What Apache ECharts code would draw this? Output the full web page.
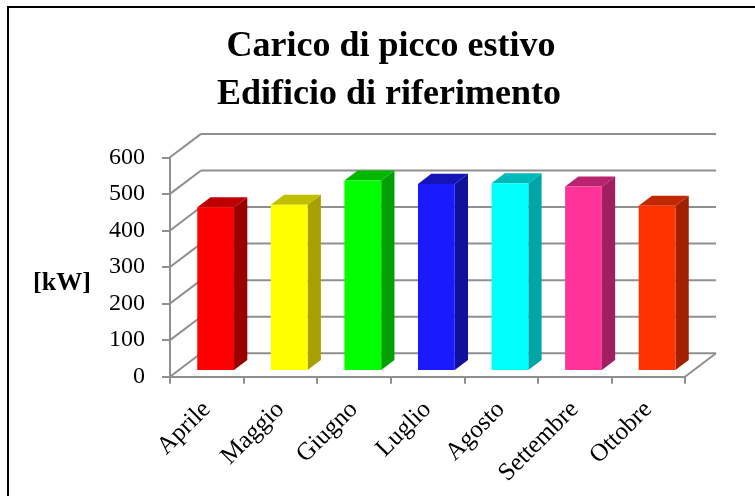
<!DOCTYPE html>
<html>
<head>
<meta charset="utf-8">
<title>Carico di picco estivo</title>
<script src="https://cdn.jsdelivr.net/npm/echarts@6/dist/echarts.min.js"></script>
<style>
  html, body { margin: 0; padding: 0; background: #ffffff; }
  #chart { width: 755px; height: 496px; }
</style>
</head>
<body>
<div id="chart"></div>
<script>
// Mesi della stagione estiva e carico di picco [kW]
const categories = ['Aprile', 'Maggio', 'Giugno', 'Luglio', 'Agosto', 'Settembre', 'Ottobre'];
const peakLoad = [445, 452, 518, 509, 511, 502, 449];
const yTicks = [0, 100, 200, 300, 400, 500, 600];

// Colori delle facce delle colonne (fronte, lato, sommità)
const frontColors = ['#ff0000', '#ffff00', '#00ff00', '#1a1aff', '#00ffff', '#ff3399', '#ff3300'];
const sideColors  = ['#990000', '#a8a000', '#00a000', '#10109a', '#00a6a6', '#a01f60', '#a02000'];
const topColors   = ['#c00000', '#c0c000', '#00b800', '#1414b8', '#00baba', '#b8246f', '#c02800'];

// Vettore di profondità della vista prospettica
const DX = 31;
const DY = -23.4;
const D0 = 0.286;   // profondità della faccia frontale
const D1 = 0.714;   // profondità della faccia posteriore
const GRID_COLOR = '#8f8f8f';
const SERIF = 'Liberation Serif';

const chart = echarts.init(document.getElementById('chart'), null, { renderer: 'canvas' });

// Pareti: linee di griglia sul fondo e diagonali sulla parete sinistra
function renderWalls(params, api) {
  const cs = params.coordSys;
  const y = api.coord([0, api.value(1)])[1];
  const x0 = cs.x;
  const x1 = cs.x + cs.width;
  const style = { stroke: GRID_COLOR, lineWidth: 2, fill: null };
  const children = [
    { type: 'line', shape: { x1: x0, y1: y, x2: x0 + DX, y2: y + DY }, style },
    { type: 'line', shape: { x1: x0 + DX, y1: y + DY, x2: x1 + DX, y2: y + DY }, style }
  ];
  if (api.value(1) === 0) {
    children.push({ type: 'line', shape: { x1: x1, y1: y, x2: x1 + DX, y2: y + DY }, style });
  }
  return { type: 'group', children };
}

// Colonne 3D: faccia frontale, laterale e superiore
function renderBar(params, api) {
  const i = api.value(0);
  const v = api.value(1);
  const base = api.coord([i, 0]);
  const top = api.coord([i, v]);
  const band = api.size([1, 0])[0];
  const half = band * 0.25;
  const fx = D0 * DX, fy = D0 * DY;
  const ddx = (D1 - D0) * DX, ddy = (D1 - D0) * DY;
  const xl = base[0] - half + fx;
  const xr = base[0] + half + fx;
  const yt = top[1] + fy;
  const yb = base[1] + fy;
  return {
    type: 'group',
    children: [
      {
        type: 'polygon',
        shape: { points: [[xr, yt], [xr + ddx, yt + ddy], [xr + ddx, yb + ddy], [xr, yb]] },
        style: { fill: sideColors[i] }
      },
      {
        type: 'polygon',
        shape: { points: [[xl, yt], [xr, yt], [xr + ddx, yt + ddy], [xl + ddx, yt + ddy]] },
        style: { fill: topColors[i] }
      },
      {
        type: 'rect',
        shape: { x: xl, y: yt, width: xr - xl, height: yb - yt },
        style: { fill: frontColors[i] }
      }
    ]
  };
}

const option = {
  backgroundColor: '#ffffff',
  animation: false,
  grid: { left: 170, right: 70, top: 157.3, bottom: 119.3, containLabel: false },
  xAxis: {
    type: 'category',
    data: categories,
    boundaryGap: true,
    axisLine: { show: true, lineStyle: { color: GRID_COLOR, width: 2 } },
    axisTick: { show: true, length: 7, lineStyle: { color: GRID_COLOR, width: 2 } },
    axisLabel: {
      interval: 0,
      rotate: 45,
      margin: 29,
      color: '#000000',
      fontFamily: SERIF,
      fontSize: 25
    },
    splitLine: { show: false }
  },
  yAxis: {
    type: 'value',
    min: 0,
    max: 600,
    interval: 100,
    axisLine: { show: true, lineStyle: { color: GRID_COLOR, width: 2 } },
    axisTick: { show: true, length: 8, lineStyle: { color: GRID_COLOR, width: 2 } },
    axisLabel: {
      margin: 25,
      color: '#000000',
      fontFamily: SERIF,
      fontSize: 24
    },
    splitLine: { show: false }
  },
  graphic: [
    {
      type: 'rect',
      shape: { x: 8, y: 7, width: 770, height: 520 },
      style: { fill: null, stroke: '#000000', lineWidth: 2 },
      silent: true
    },
    {
      type: 'text',
      x: 391, y: 47,
      style: {
        text: 'Carico di picco estivo',
        align: 'center', verticalAlign: 'middle',
        font: 'bold 36px "Liberation Serif"', fill: '#000000'
      }
    },
    {
      type: 'text',
      x: 389, y: 95,
      style: {
        text: 'Edificio di riferimento',
        align: 'center', verticalAlign: 'middle',
        font: 'bold 36px "Liberation Serif"', fill: '#000000'
      }
    },
    {
      type: 'text',
      x: 62, y: 283,
      style: {
        text: '[kW]',
        align: 'center', verticalAlign: 'middle',
        font: 'bold 26px "Liberation Serif"', fill: '#000000'
      }
    }
  ],
  series: [
    {
      type: 'custom',
      name: 'pareti',
      renderItem: renderWalls,
      data: yTicks.map(v => [0, v]),
      silent: true,
      z: 1
    },
    {
      type: 'custom',
      name: 'Carico di picco',
      renderItem: renderBar,
      data: peakLoad.map((v, i) => [i, v]),
      z: 2
    }
  ]
};

chart.setOption(option);
</script>
</body>
</html>
